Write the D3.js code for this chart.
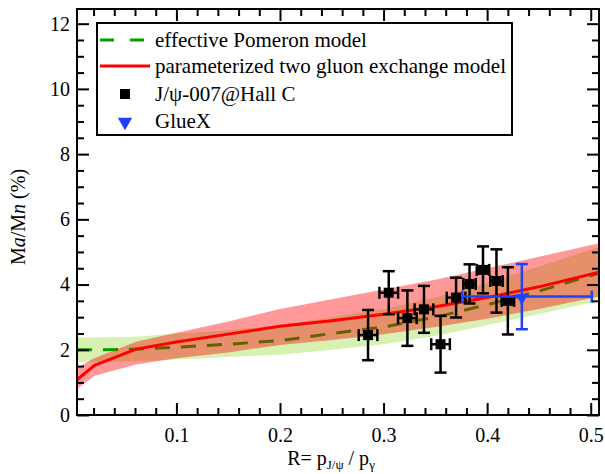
<!DOCTYPE html>
<html><head><meta charset="utf-8">
<script src="https://cdn.jsdelivr.net/npm/d3@7/dist/d3.min.js"></script>
<style>
body{margin:0;background:#fff}
svg{display:block}
text{font-family:"Liberation Serif","Times New Roman","DejaVu Serif",serif;fill:#000}
</style>
</head><body>
<svg id="chart" width="605" height="474"></svg>
<script>
// ---------- data ----------
const rGrid        = [0.004, 0.021, 0.061, 0.10, 0.15, 0.20, 0.25, 0.30, 0.35, 0.40, 0.45, 0.508];
const twoGluon     = [1.08, 1.52, 2.02, 2.24, 2.48, 2.72, 2.89, 3.09, 3.32, 3.60, 3.93, 4.38];
const twoGluonHi   = [1.45, 1.75, 2.25, 2.52, 2.87, 3.25, 3.55, 3.85, 4.15, 4.50, 4.85, 5.27];
const twoGluonLo   = [0.80, 1.20, 1.55, 1.74, 1.92, 2.15, 2.30, 2.48, 2.70, 2.95, 3.25, 3.63];
const pomeron      = [2.00, 2.00, 2.02, 2.08, 2.17, 2.28, 2.50, 2.70, 3.00, 3.38, 3.80, 4.35];
const pomeronHi    = [2.38, 2.38, 2.40, 2.50, 2.60, 2.75, 3.00, 3.25, 3.60, 4.05, 4.55, 5.15];
const pomeronLo    = [1.62, 1.62, 1.64, 1.70, 1.78, 1.85, 2.00, 2.17, 2.42, 2.75, 3.10, 3.50];

const hallC_R      = [0.285, 0.305, 0.323, 0.339, 0.355, 0.370, 0.383, 0.396, 0.409, 0.420];
const hallC_Rerr   = [0.009, 0.009, 0.009, 0.009, 0.009, 0.009, 0.006, 0.006, 0.006, 0.006];
const hallC_M      = [2.45, 3.75, 2.97, 3.24, 2.17, 3.60, 4.02, 4.45, 4.11, 3.50];
const hallC_Merr   = [0.77, 0.66, 0.85, 0.72, 0.87, 0.61, 0.60, 0.72, 0.97, 1.03];

const glueX_R      = [0.4335];
const glueX_Rlo    = [0.376];
const glueX_Rhi    = [0.501];
const glueX_M      = [3.63];
const glueX_Merr   = [1.00];

const xMajorTicks  = [0.1, 0.2, 0.3, 0.4, 0.5];
const yMajorTicks  = [0, 2, 4, 6, 8, 10, 12];
const legendLabels = ["effective Pomeron model", "parameterized two gluon exchange model", "J/\u03c8-007@Hall C", "GlueX"];

// ---------- layout ----------
const svg = d3.select("#chart");
const L = 77, R = 599, T = 9, B = 415;
const x = d3.scaleLinear().domain([0.004, 0.508]).range([L, R]);
const y = d3.scaleLinear().domain([0, 12.45]).range([B, T]);

const RED = "#ff0000", GREEN = "#00a000", BLUE = "#2040ff";
const FONT = "Liberation Serif, Times New Roman, DejaVu Serif, serif";

svg.append("defs").append("clipPath").attr("id","plotclip")
  .append("rect").attr("x",L).attr("y",T).attr("width",R-L).attr("height",B-T);
const plot = svg.append("g").attr("clip-path","url(#plotclip)");

const idx = d3.range(rGrid.length);
const area = (lo, hi) => d3.area().x(i => x(rGrid[i])).y0(i => y(lo[i])).y1(i => y(hi[i]));
const line = arr => d3.line().x(i => x(rGrid[i])).y(i => y(arr[i]));

plot.append("path").attr("d", area(pomeronLo, pomeronHi)(idx)).attr("fill", "#d6f1b2");
plot.append("path").attr("d", line(pomeron)(idx)).attr("fill","none")
  .attr("stroke", GREEN).attr("stroke-width", 3).attr("stroke-dasharray","15,11");
plot.append("path").attr("d", area(twoGluonLo, twoGluonHi)(idx)).attr("fill", RED).attr("fill-opacity", 0.4);
plot.append("path").attr("d", line(twoGluon)(idx)).attr("fill","none")
  .attr("stroke", RED).attr("stroke-width", 3);

// ---------- data points ----------
const pts = svg.append("g");
const cap = 6;
function errBars(g, cx, cy, y1, y2, x1, x2){
  g.append("line").attr("x1",cx).attr("x2",cx).attr("y1",y1).attr("y2",y2);
  g.append("line").attr("x1",cx-cap).attr("x2",cx+cap).attr("y1",y1).attr("y2",y1);
  g.append("line").attr("x1",cx-cap).attr("x2",cx+cap).attr("y1",y2).attr("y2",y2);
  g.append("line").attr("x1",x1).attr("x2",x2).attr("y1",cy).attr("y2",cy);
  g.append("line").attr("x1",x1).attr("x2",x1).attr("y1",cy-cap).attr("y2",cy+cap);
  g.append("line").attr("x1",x2).attr("x2",x2).attr("y1",cy-cap).attr("y2",cy+cap);
}
hallC_R.forEach((r, i) => {
  const cx = x(r), cy = y(hallC_M[i]);
  const g = pts.append("g").attr("stroke","#000").attr("stroke-width",2.5);
  errBars(g, cx, cy, y(hallC_M[i] + hallC_Merr[i]), y(hallC_M[i] - hallC_Merr[i]),
          x(r - hallC_Rerr[i]), x(r + hallC_Rerr[i]));
  pts.append("rect").attr("x",cx-5).attr("y",cy-5).attr("width",10).attr("height",10).attr("fill","#000");
});
glueX_R.forEach((r, i) => {
  const cx = x(r), cy = y(glueX_M[i]);
  const g = pts.append("g").attr("stroke",BLUE).attr("stroke-width",2.5);
  errBars(g, cx, cy, y(glueX_M[i] + glueX_Merr[i]), y(glueX_M[i] - glueX_Merr[i]),
          x(glueX_Rlo[i]), x(glueX_Rhi[i]));
  pts.append("path").attr("d", d3.symbol(d3.symbolTriangle, 70)())
    .attr("transform",`translate(${cx},${cy+1}) rotate(180)`).attr("fill",BLUE);
});

// ---------- axes ----------
const fs = 20;
const xMinor = d3.range(0.02, 0.5001, 0.02).filter(v => !xMajorTicks.some(t => Math.abs(t-v) < 1e-6));
const yMinor = d3.range(0.5, 12.01, 0.5).filter(v => !yMajorTicks.includes(v));

function styleAxis(g){
  g.attr("font-family", FONT);
  g.select(".domain").remove();
  g.selectAll(".tick line").attr("stroke","#000").attr("stroke-width",2);
  g.selectAll(".tick text").attr("font-size",fs).attr("font-family",FONT);
}
svg.append("g").attr("transform",`translate(0,${B})`)
  .call(d3.axisBottom(x).tickValues(xMajorTicks).tickSizeInner(-12).tickSizeOuter(0).tickPadding(13).tickFormat(d3.format(".1f")))
  .call(styleAxis);
svg.append("g").attr("transform",`translate(0,${B})`)
  .call(d3.axisBottom(x).tickValues(xMinor).tickSizeInner(-7).tickSizeOuter(0).tickFormat(""))
  .call(styleAxis);
svg.append("g").attr("transform",`translate(0,${T})`)
  .call(d3.axisTop(x).tickValues(xMajorTicks).tickSizeInner(-12).tickSizeOuter(0).tickFormat(""))
  .call(styleAxis);
svg.append("g").attr("transform",`translate(0,${T})`)
  .call(d3.axisTop(x).tickValues(xMinor).tickSizeInner(-7).tickSizeOuter(0).tickFormat(""))
  .call(styleAxis);
svg.append("g").attr("transform",`translate(${L},0)`)
  .call(d3.axisLeft(y).tickValues(yMajorTicks).tickSizeInner(-12).tickSizeOuter(0).tickPadding(7).tickFormat(d3.format("d")))
  .call(styleAxis);
svg.append("g").attr("transform",`translate(${L},0)`)
  .call(d3.axisLeft(y).tickValues(yMinor).tickSizeInner(-7).tickSizeOuter(0).tickFormat(""))
  .call(styleAxis);
svg.append("g").attr("transform",`translate(${R},0)`)
  .call(d3.axisRight(y).tickValues(yMajorTicks).tickSizeInner(-12).tickSizeOuter(0).tickFormat(""))
  .call(styleAxis);
svg.append("g").attr("transform",`translate(${R},0)`)
  .call(d3.axisRight(y).tickValues(yMinor).tickSizeInner(-7).tickSizeOuter(0).tickFormat(""))
  .call(styleAxis);
svg.append("rect").attr("x",L).attr("y",T).attr("width",R-L).attr("height",B-T)
  .attr("fill","none").attr("stroke","#000").attr("stroke-width",2);

// axis titles
const xt = svg.append("text").attr("x", 331).attr("y", 465).attr("text-anchor","middle")
  .attr("font-size",fs).attr("font-family",FONT);
xt.append("tspan").text("R= p");
xt.append("tspan").attr("font-size",13).attr("dy",4).text("J/\u03c8");
xt.append("tspan").attr("dy",-4).text(" / p");
xt.append("tspan").attr("font-size",13).attr("dy",4).text("\u03b3");

const yt = svg.append("text").attr("transform","translate(25,217) rotate(-90)").attr("text-anchor","middle")
  .attr("font-size",fs).attr("font-family",FONT);
yt.append("tspan").text("M");
yt.append("tspan").attr("font-style","italic").text("a");
yt.append("tspan").text("/M");
yt.append("tspan").attr("font-style","italic").text("n");
yt.append("tspan").text(" (%)");

// ---------- legend ----------
const lg = svg.append("g");
lg.append("rect").attr("x",97).attr("y",23).attr("width",415).attr("height",112)
  .attr("fill","#fff").attr("stroke","#000").attr("stroke-width",2);
const rowY = [40, 66, 94, 121];
const tx = 155;
lg.append("line").attr("x1",100).attr("x2",148).attr("y1",rowY[0]).attr("y2",rowY[0])
  .attr("stroke",GREEN).attr("stroke-width",3).attr("stroke-dasharray","14,16");
lg.append("line").attr("x1",100).attr("x2",150).attr("y1",rowY[1]).attr("y2",rowY[1])
  .attr("stroke",RED).attr("stroke-width",3);
lg.append("rect").attr("x",120).attr("y",rowY[2]-5).attr("width",10).attr("height",10).attr("fill","#000");
lg.append("path").attr("d", d3.symbol(d3.symbolTriangle, 90)())
  .attr("transform",`translate(125,${rowY[3]+1}) rotate(180)`).attr("fill",BLUE);
legendLabels.forEach((t,i) => {
  lg.append("text").attr("x",tx).attr("y",rowY[i]).attr("dy","0.35em")
    .attr("font-size",21).attr("font-family",FONT).text(t);
});
</script>
</body></html>
